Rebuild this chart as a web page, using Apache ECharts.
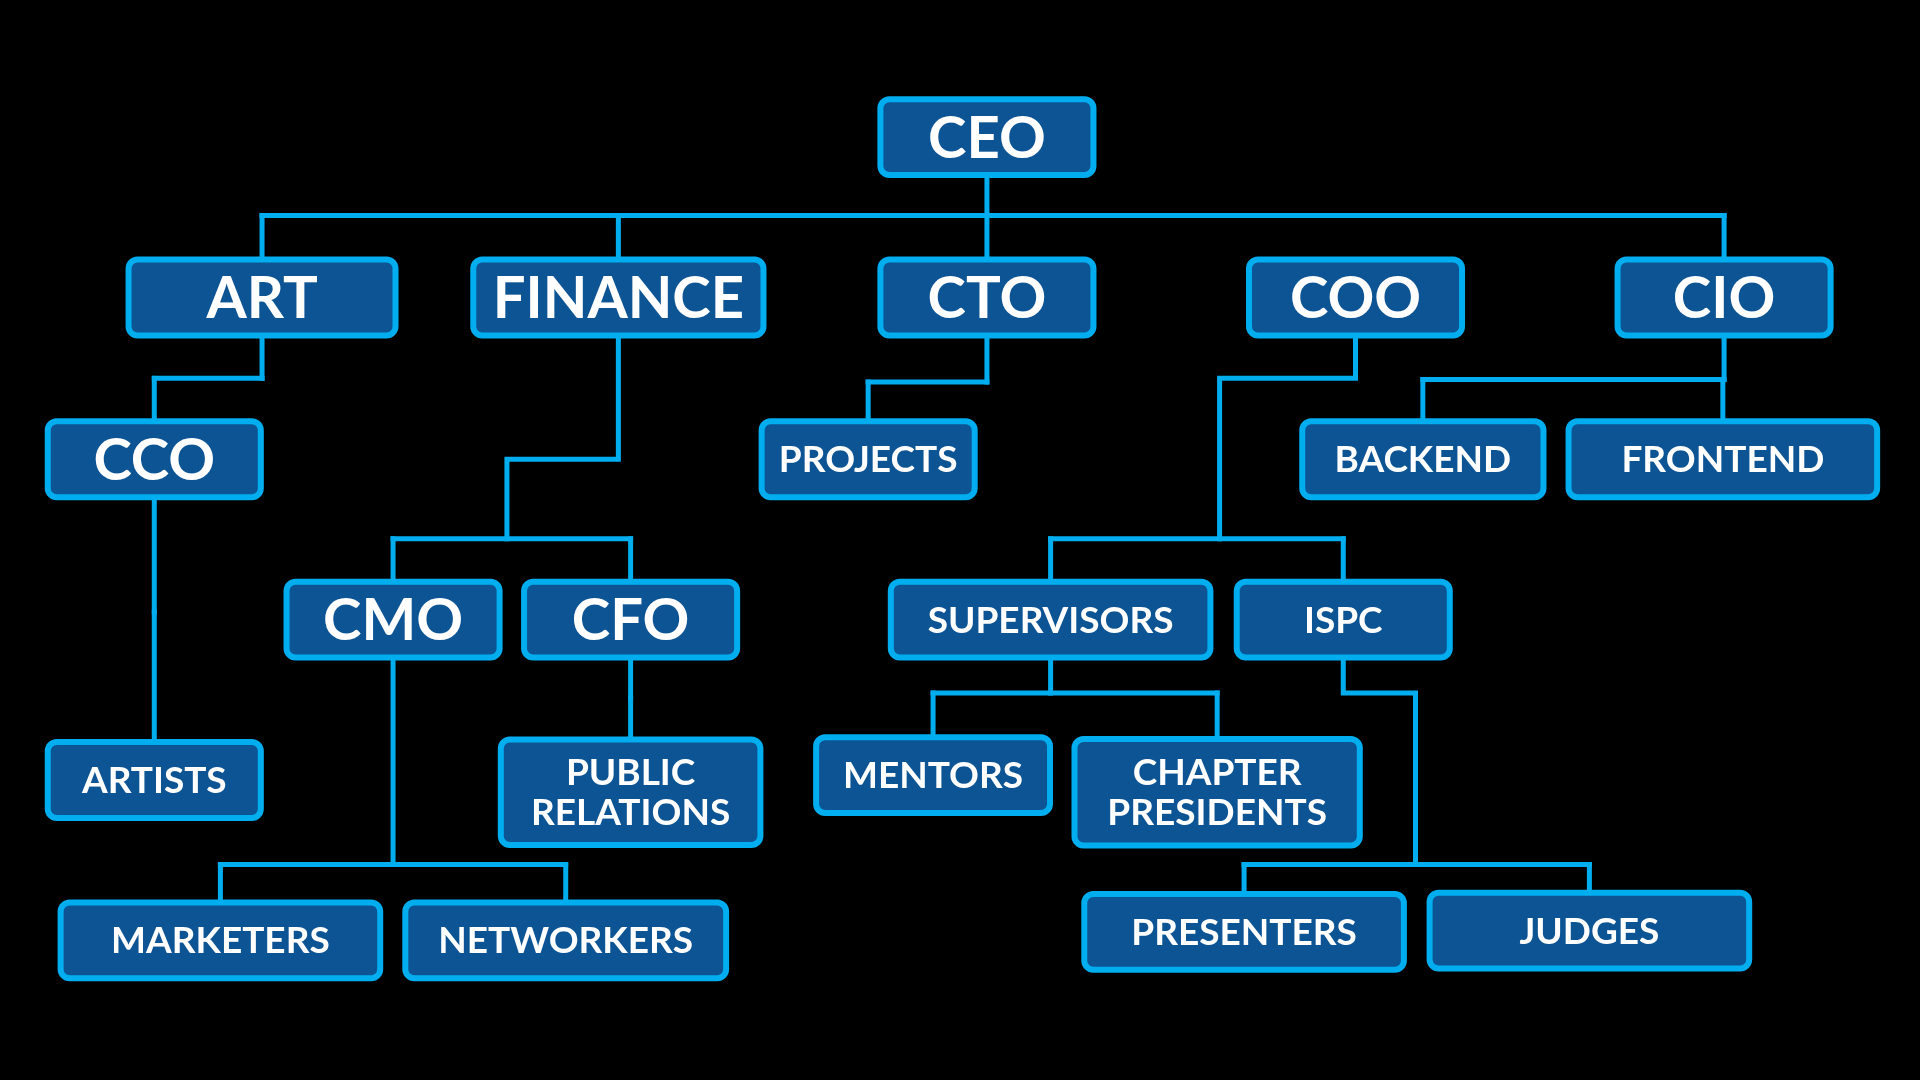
<!DOCTYPE html>
<html>
<head>
<meta charset="utf-8">
<title>Org chart</title>
<script src="https://cdn.jsdelivr.net/npm/echarts@6/dist/echarts.min.js"></script>
<style>
  html, body { margin: 0; padding: 0; background: #000; }
  #chart { width: 1920px; height: 1080px; }
</style>
</head>
<body>
<div id="chart"></div>
<script>
// roles, and who reports to whom
const names = [
    "CEO", "ART", "FINANCE", "CTO", "COO", "CIO",
    "CCO", "PROJECTS", "BACKEND", "FRONTEND",
    "CMO", "CFO", "SUPERVISORS", "ISPC",
    "ARTISTS", "PUBLIC\nRELATIONS", "MENTORS", "CHAPTER\nPRESIDENTS",
    "MARKETERS", "NETWORKERS", "PRESENTERS", "JUDGES"
];
const parents = [
    null, "CEO", "CEO", "CEO", "CEO", "CEO",
    "ART", "CTO", "CIO", "CIO",
    "FINANCE", "FINANCE", "COO", "COO",
    "CCO", "CFO", "SUPERVISORS", "SUPERVISORS",
    "CMO", "CMO", "ISPC", "ISPC"
];
// roles shown with the large label
const bigLabels = ["CEO", "ART", "FINANCE", "CTO", "COO", "CIO", "CCO", "CMO", "CFO"];

// layout of the boxes on a 1568 x 882 board: [centre x, centre y, width, height]
const layout = {
    "CEO": [806, 112, 174, 62],
    "ART": [214, 243, 218, 62],
    "FINANCE": [505, 243, 237, 62],
    "CTO": [806, 243, 174, 62],
    "COO": [1107, 243, 174, 62],
    "CIO": [1408, 243, 174, 62],
    "CCO": [126, 375, 174, 62],
    "PROJECTS": [709, 375, 174, 62],
    "BACKEND": [1162, 375, 197, 62],
    "FRONTEND": [1407, 375, 252, 62],
    "CMO": [321, 506, 174, 62],
    "CFO": [515, 506, 174, 62],
    "SUPERVISORS": [858, 506, 261, 62],
    "ISPC": [1097, 506, 174, 62],
    "ARTISTS": [126, 637, 174, 62],
    "PUBLIC\nRELATIONS": [515, 647, 212, 86],
    "MENTORS": [762, 633, 191, 62],
    "CHAPTER\nPRESIDENTS": [994, 647, 233, 87],
    "MARKETERS": [180, 768, 261, 62],
    "NETWORKERS": [462, 768, 262, 62],
    "PRESENTERS": [1016, 761, 261, 62],
    "JUDGES": [1298, 760, 261, 62]
};
// connector routing: level of the horizontal bar under each parent, optional jogs [y, x] on the trunk
const busLevels = {
    "CEO": 176, "ART": 309, "FINANCE": 440, "CTO": 312, "COO": 440, "CIO": 310,
    "CCO": 500, "CMO": 706, "CFO": 570, "SUPERVISORS": 566, "ISPC": 706
};
const trunkJogs = {
    "FINANCE": [[375, 414]],
    "COO": [[309, 996]],
    "ISPC": [[566, 1156]]
};
// COO sits under the CEO bar without a drop line
const hiddenLinks = ["COO"];

const BORDER = "#00aeef";
const FILL = "#0d5494";

const chart = echarts.init(document.getElementById("chart"));

// build connector polylines
const linkData = [];
Object.keys(busLevels).forEach(p => {
    const kids = names.filter((n, i) => parents[i] === p && hiddenLinks.indexOf(n) < 0);
    if (!kids.length) return;
    const busY = busLevels[p];
    let x = layout[p][0];
    let y = layout[p][1];
    const trunk = [[x, y]];
    (trunkJogs[p] || []).forEach(j => {
        trunk.push([x, j[0]]);
        x = j[1];
        y = j[0];
        trunk.push([x, y]);
    });
    trunk.push([x, busY]);
    linkData.push({ coords: trunk });
    const xs = kids.map(k => layout[k][0]).concat([x]);
    linkData.push({ coords: [[Math.min.apply(null, xs), busY], [Math.max.apply(null, xs), busY]] });
    kids.forEach(k => {
        linkData.push({ coords: [[layout[k][0], busY], [layout[k][0], layout[k][1]]] });
    });
});

const boxData = names.map(n => layout[n].slice());

const option = {
    backgroundColor: "#000",
    animation: false,
    grid: { left: 0, right: 0, top: 0, bottom: 0 },
    xAxis: { type: "value", min: 0, max: 1568, show: false },
    yAxis: { type: "value", min: 0, max: 882, inverse: true, show: false },
    series: [
        {
            type: "lines",
            coordinateSystem: "cartesian2d",
            polyline: true,
            z: 1,
            lineStyle: { color: BORDER, width: 5, opacity: 1, cap: "square", join: "miter" },
            data: linkData
        },
        {
            type: "custom",
            z: 2,
            data: boxData,
            renderItem: (params, api) => {
                const name = names[params.dataIndex];
                const c = api.coord([api.value(0), api.value(1)]);
                const s = api.size([api.value(2), api.value(3)]);
                const big = bigLabels.indexOf(name) >= 0;
                return {
                    type: "group",
                    children: [
                        {
                            type: "rect",
                            shape: { x: c[0] - s[0] / 2, y: c[1] - s[1] / 2, width: s[0], height: s[1], r: 9 },
                            style: { fill: FILL, stroke: BORDER, lineWidth: 6 }
                        },
                        {
                            type: "text",
                            x: c[0],
                            y: c[1] + (big ? 2 : 1),
                            style: {
                                text: name,
                                fill: "#fff",
                                fontFamily: "Lato",
                                fontWeight: "bold",
                                fontSize: big ? 58 : 37,
                                lineHeight: 40,
                                align: "center",
                                verticalAlign: "middle"
                            }
                        }
                    ]
                };
            }
        }
    ]
};
chart.setOption(option);
window.addEventListener("resize", () => chart.resize());
</script>
</body>
</html>
